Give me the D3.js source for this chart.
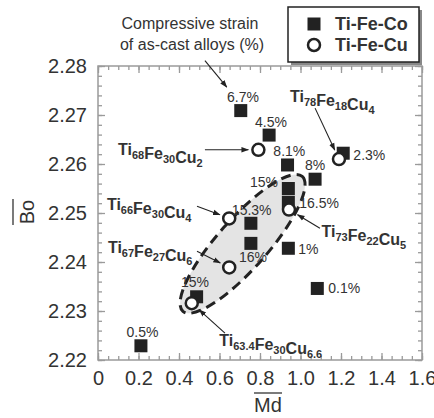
<!DOCTYPE html>
<html>
<head>
<meta charset="utf-8">
<script src="https://cdn.jsdelivr.net/npm/d3@7"></script>
<style>
  body { margin: 0; background: #fff; }
  svg { display: block; font-family: "Liberation Sans", Arial, sans-serif; }
</style>
</head>
<body>
<svg id="svg" width="434" height="418"></svg>
<script>
// Ti-Fe-Co (filled squares)
const coMd = [0.705, 0.845, 0.936, 1.211, 1.072, 0.940, 0.940, 0.755, 0.755, 0.940, 1.083, 0.212, 0.487];
const coBo = [2.2709, 2.2659, 2.2598, 2.2622, 2.2569, 2.2550, 2.2522, 2.2479, 2.2438, 2.2428, 2.2346, 2.2229, 2.2329];

// Ti-Fe-Cu (open circles)
const cuNames = ["Ti_68Fe_30Cu_2", "Ti_78Fe_18Cu_4", "Ti_73Fe_22Cu_5", "Ti_66Fe_30Cu_4", "Ti_67Fe_27Cu_6", "Ti_63.4Fe_30Cu_6.6"];
const cuMd = [0.792, 1.190, 0.943, 0.648, 0.648, 0.463];
const cuBo = [2.2629, 2.2610, 2.2507, 2.2489, 2.2389, 2.2316];

// alloy name labels: text start, and where the arrow leaves it
const nameMd = [0.099, 0.948, 1.104, 0.044, 0.049, 0.599];
const nameBo = [2.2629, 2.2737, 2.2462, 2.2518, 2.2429, 2.2239];
const arrowMd = [0.528, 1.072, 1.096, 0.489, 0.489, 0.627];
const arrowBo = [2.2629, 2.2714, 2.2469, 2.2514, 2.2422, 2.2255];

// compressive strain labels
const strainText = ["6.7%", "4.5%", "8.1%", "8%", "15%", "16.5%", "15.3%", "16%", "1%", "2.3%", "0.1%", "15%", "0.5%"];
const strainMd = [0.716, 0.854, 0.866, 1.072, 0.889, 0.994, 0.759, 0.765, 0.989, 1.261, 1.137, 0.479, 0.220];
const strainBo = [2.2737, 2.2686, 2.2627, 2.2598, 2.2564, 2.2520, 2.2506, 2.2411, 2.2426, 2.2618, 2.2346, 2.2358, 2.2256];
const strainAnchor = ["middle", "middle", "start", "middle", "end", "start", "middle", "middle", "start", "start", "start", "middle", "middle"];

// dashed region around the high-strain alloys
const regionMd = 0.714, regionBo = 2.2437;

const xTicks = [0, 0.2, 0.4, 0.6, 0.8, 1.0, 1.2, 1.4, 1.6];
const yTicks = [2.22, 2.23, 2.24, 2.25, 2.26, 2.27, 2.28];

const svg = d3.select("#svg");
const margin = {top: 66, right: 12, bottom: 58, left: 98};
const W = 434, H = 418;
const x = d3.scaleLinear().domain([0, 1.6]).range([margin.left, W - margin.right]);
const y = d3.scaleLinear().domain([2.22, 2.28]).range([H - margin.bottom, margin.top]);

const ink = "#222", axisGray = "#9a9a9a", txt = "#333";

svg.append("defs").append("marker")
  .attr("id", "arr").attr("viewBox", "0 0 10 10").attr("refX", 9).attr("refY", 5)
  .attr("markerWidth", 7).attr("markerHeight", 7).attr("orient", "auto")
  .append("path").attr("d", "M0,1.5 L10,5 L0,8.5 Z").attr("fill", ink);

// ellipse region
const cx = x(regionMd), cy = y(regionBo);
svg.append("ellipse")
  .attr("cx", cx).attr("cy", cy).attr("rx", 90).attr("ry", 25)
  .attr("transform", `rotate(-48.5,${cx},${cy})`)
  .attr("fill", "#e4e4e4").attr("stroke", ink).attr("stroke-width", 3)
  .attr("stroke-dasharray", "10,6");

// axes
const minorX = d3.range(0, 1.6001, 0.05);
const minorY = d3.range(2.22, 2.28001, 0.002);
function drawAxis(axisFn, scale, vals, size, tx, labels) {
  const a = axisFn(scale).tickValues(vals).tickSizeInner(-size).tickSizeOuter(0);
  if (labels) a.tickFormat(labels).tickPadding(11); else a.tickFormat("");
  const g = svg.append("g").attr("transform", tx).call(a);
  g.select(".domain").remove();
  g.selectAll("line").attr("stroke", axisGray).attr("stroke-width", 1.3);
  g.selectAll("text").attr("fill", txt).attr("font-size", 20);
  return g;
}
const bx = `translate(0,${y.range()[0]})`, tx = `translate(0,${y.range()[1]})`;
const ly = `translate(${x.range()[0]},0)`, ry = `translate(${x.range()[1]},0)`;
drawAxis(d3.axisBottom, x, minorX, 4, bx);
drawAxis(d3.axisBottom, x, xTicks, 7, bx, d => d === 0 ? "0" : d3.format(".1f")(d));
drawAxis(d3.axisTop, x, minorX, 4, tx);
drawAxis(d3.axisTop, x, xTicks, 7, tx);
drawAxis(d3.axisLeft, y, minorY, 4, ly);
drawAxis(d3.axisLeft, y, yTicks, 7, ly, d3.format(".2f"));
drawAxis(d3.axisRight, y, minorY, 4, ry);
drawAxis(d3.axisRight, y, yTicks, 7, ry);

svg.append("rect")
  .attr("x", x.range()[0]).attr("y", y.range()[1])
  .attr("width", x.range()[1] - x.range()[0]).attr("height", y.range()[0] - y.range()[1])
  .attr("fill", "none").attr("stroke", axisGray).attr("stroke-width", 1.5);

// axis titles with overbars
const xt = svg.append("g").attr("transform", "translate(268,405)");
xt.append("text").attr("text-anchor", "middle").attr("dy", "0.35em")
  .attr("font-size", 20).attr("fill", txt).text("Md");
xt.append("line").attr("x1", -14).attr("x2", 14).attr("y1", -12).attr("y2", -12)
  .attr("stroke", txt).attr("stroke-width", 1.3);
const yt = svg.append("g").attr("transform", "translate(27,212) rotate(-90)");
yt.append("text").attr("text-anchor", "middle").attr("dy", "0.35em")
  .attr("font-size", 20).attr("fill", txt).text("Bo");
yt.append("line").attr("x1", -13).attr("x2", 13).attr("y1", -14).attr("y2", -14)
  .attr("stroke", txt).attr("stroke-width", 1.3);

// name arrows
cuNames.forEach((n, i) => {
  const x1 = x(arrowMd[i]), y1 = y(arrowBo[i]);
  const px = x(cuMd[i]), py = y(cuBo[i]);
  const d = Math.hypot(px - x1, py - y1), gap = 10;
  svg.append("line")
    .attr("x1", x1).attr("y1", y1)
    .attr("x2", px - (px - x1) / d * gap).attr("y2", py - (py - y1) / d * gap)
    .attr("stroke", ink).attr("stroke-width", 1.1).attr("marker-end", "url(#arr)");
});

// squares
const sq = 13;
svg.append("g").selectAll("rect").data(coMd).join("rect")
  .attr("x", (d, i) => x(d) - sq / 2).attr("y", (d, i) => y(coBo[i]) - sq / 2)
  .attr("width", sq).attr("height", sq).attr("fill", ink);

// circles
svg.append("g").selectAll("circle").data(cuMd).join("circle")
  .attr("cx", d => x(d)).attr("cy", (d, i) => y(cuBo[i])).attr("r", 6)
  .attr("fill", "#fff").attr("stroke", ink).attr("stroke-width", 2.5);

// strain labels
svg.append("g").selectAll("text").data(strainText).join("text")
  .attr("x", (d, i) => x(strainMd[i])).attr("y", (d, i) => y(strainBo[i]))
  .attr("dy", "0.35em").attr("text-anchor", (d, i) => strainAnchor[i])
  .attr("font-size", 14).attr("fill", txt).text(d => d);

// alloy name labels with subscripts
cuNames.forEach((n, i) => {
  const t = svg.append("text")
    .attr("x", x(nameMd[i])).attr("y", y(nameBo[i])).attr("dy", "0.35em")
    .attr("font-size", 16).attr("font-weight", "bold").attr("fill", txt);
  n.match(/[A-Za-z]+_[0-9.]+/g).forEach(part => {
    const [el, num] = part.split("_");
    t.append("tspan").text(el);
    t.append("tspan").attr("font-size", 11).attr("dy", 4).text(num);
    t.append("tspan").attr("dy", -4).text("");
  });
});

// note about strain
const note = svg.append("text").attr("font-size", 16).attr("fill", txt).attr("text-anchor", "middle");
note.append("tspan").attr("x", 190).attr("y", 29).text("Compressive strain");
note.append("tspan").attr("x", 192).attr("y", 50).text("of as-cast alloys (%)");
svg.append("line")
  .attr("x1", x(0.528)).attr("y1", y(2.2811)).attr("x2", x(0.636)).attr("y2", y(2.2757))
  .attr("stroke", ink).attr("stroke-width", 1.1).attr("marker-end", "url(#arr)");

// legend
const lg = svg.append("g").attr("transform", "translate(288,7)");
lg.append("rect").attr("x", 3).attr("y", 3).attr("width", 131).attr("height", 55).attr("fill", "#888");
lg.append("rect").attr("width", 131).attr("height", 55).attr("fill", "#fff").attr("stroke", ink).attr("stroke-width", 1.5);
lg.append("rect").attr("x", 26 - sq / 2).attr("y", 17 - sq / 2).attr("width", sq).attr("height", sq).attr("fill", ink);
lg.append("circle").attr("cx", 26).attr("cy", 38).attr("r", 6)
  .attr("fill", "#fff").attr("stroke", ink).attr("stroke-width", 2.5);
lg.append("text").attr("x", 47).attr("y", 17).attr("dy", "0.35em")
  .attr("font-size", 18).attr("font-weight", "bold").attr("fill", txt).text("Ti-Fe-Co");
lg.append("text").attr("x", 47).attr("y", 38).attr("dy", "0.35em")
  .attr("font-size", 18).attr("font-weight", "bold").attr("fill", txt).text("Ti-Fe-Cu");
</script>
</body>
</html>
